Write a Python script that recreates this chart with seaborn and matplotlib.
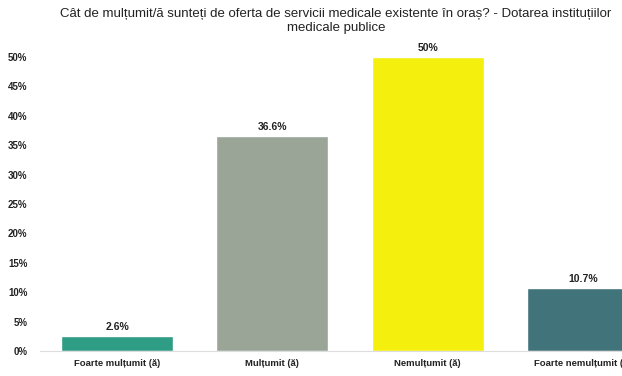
import matplotlib
matplotlib.use("Agg")
import matplotlib.pyplot as plt
import seaborn as sns
import pandas as pd
from matplotlib.ticker import FuncFormatter

categories = ["Foarte mulțumit (ă)", "Mulțumit (ă)", "Nemulțumit (ă)", "Foarte nemulțumit (ă)"]
values = [0.026, 0.366, 0.50, 0.107]
value_labels = ["2.6%", "36.6%", "50%", "10.7%"]
colors = ["#2f9c85", "#9aa597", "#f4ef0c", "#41737a"]
title = "Cât de mulțumit/ă sunteți de oferta de servicii medicale existente în oraș? - Dotarea instituțiilor\nmedicale publice"

sns.set_theme(style="white")
plt.rcParams['font.family'] = ['Liberation Sans Narrow', 'Liberation Sans', 'DejaVu Sans']

df = pd.DataFrame({"cat": categories, "val": values})

fig = plt.figure(figsize=(6.22, 3.76), dpi=100)
ax = fig.add_axes([40/622, 25/376, 1 - 40/622, (351-57)/376])

sns.barplot(data=df, x="cat", y="val", hue="cat", palette=colors, legend=False,
            width=0.72, ax=ax, saturation=1)

ax.set_ylim(0, 0.5)
ax.set_xlim(-0.496, 3.251)
ax.set_yticks([i * 0.05 for i in range(11)])
ax.yaxis.set_major_formatter(FuncFormatter(lambda v, p: f"{int(round(v*100))}%"))
ax.tick_params(axis='y', labelsize=7, length=0, pad=9, colors="#222222")
ax.tick_params(axis='x', labelsize=6.8, length=0, pad=6, colors="#222222")
for lab in ax.get_xticklabels() + ax.get_yticklabels():
    lab.set_fontweight("bold")
ax.set_xlabel("")
ax.set_ylabel("")
for s in ["top", "right", "left"]:
    ax.spines[s].set_visible(False)
ax.spines["bottom"].set_color("#dddddd")
ax.spines["bottom"].set_linewidth(0.8)

for p, lab in zip(ax.patches, value_labels):
    ax.annotate(lab, (p.get_x() + p.get_width() / 2, p.get_height()),
                xytext=(0, 3), textcoords="offset points", ha="center", va="bottom",
                fontsize=7.5, fontweight="bold", color="#222222", annotation_clip=False)

fig.text(0.54, 0.978, title, ha="center", va="top", fontsize=9.5, color="#222222",
         linespacing=1.15)

fig.savefig("out.png", dpi=100)
